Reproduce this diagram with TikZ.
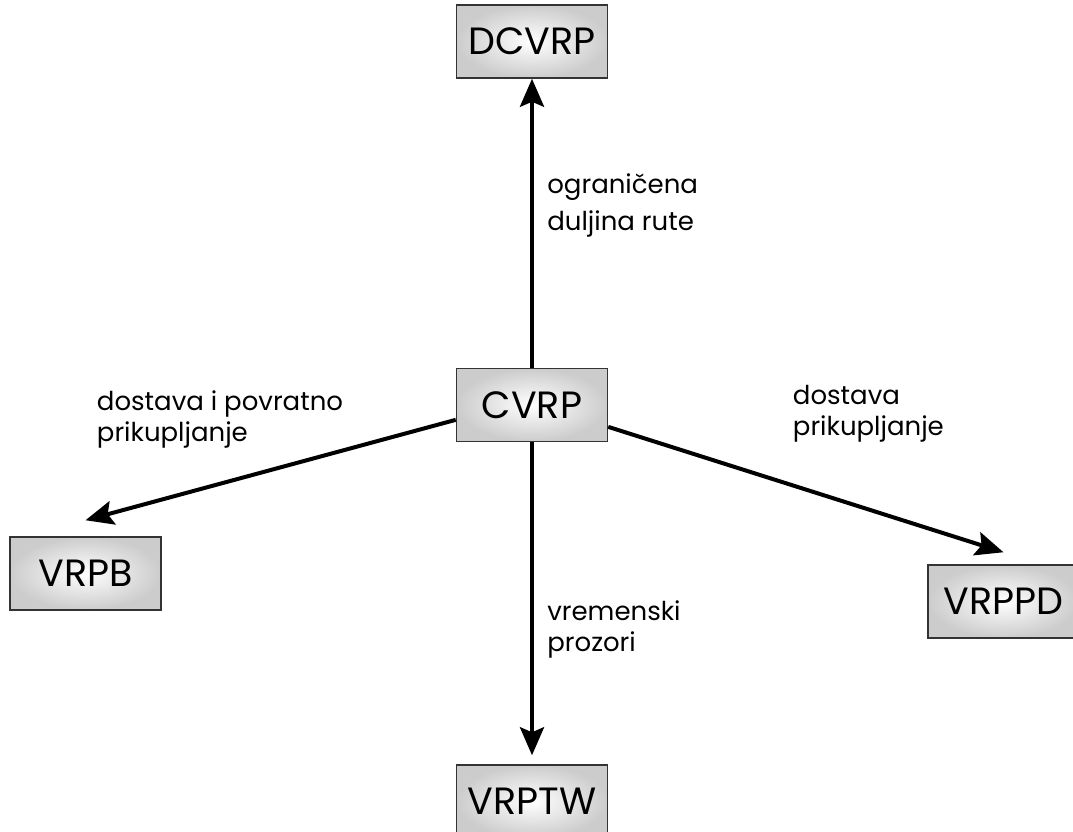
\documentclass[tikz,border=0pt]{standalone}
\usepackage{fontspec}
\setmainfont{Poppins}
\usetikzlibrary{arrows.meta, positioning}

\begin{document}
\begin{tikzpicture}[x=1pt,y=1pt,>={Stealth[length=28pt,width=24pt,inset=5pt]},
        box node/.style={rectangle,draw=black!80,line width=1.5pt,shading=radial,
          inner color=white,outer color=black!20,minimum width=151pt,minimum height=73pt,
          font=\fontsize{38}{40}\selectfont}]
    \useasboundingbox (0,0) rectangle (1073,-831);
    \node[box node] (1) at (532,-405) {CVRP};
    \node[box node] (2) [above=289pt of 1] {DCVRP};
    \node[box node] (3) [below left=94pt and 294pt of 1] {VRPB};
    \node[box node] (4) [below right=122pt and 319pt of 1] {VRPPD};
    \node[box node] (5) [below=322pt of 1] {VRPTW};
  \path[->, line width=4pt, every node/.style={font=\fontsize{26}{31}\selectfont, align=left}]
      (1) edge node [pos=0.56, anchor=west, xshift=10pt, font=\fontsize{26}{37}\selectfont] {ograničena\\duljina rute} (2)
      (1.191) edge node [pos=0.29, anchor=south east, yshift=-5pt] {dostava i povratno\\prikupljanje} ([yshift=16pt]3.north)
      (1.344) edge node [pos=0.474, anchor=south west, xshift=-8pt, yshift=39pt] {dostava\\prikupljanje} ([yshift=12pt]4.north)
      (1) edge [shorten >=9pt] node [pos=0.58, anchor=west, xshift=10pt] {vremenski\\prozori} (5);
  \end{tikzpicture}
\end{document}
